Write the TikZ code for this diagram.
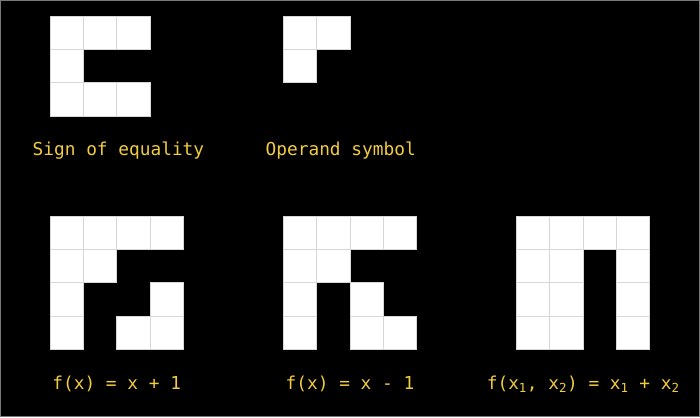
\documentclass[tikz,border=0pt]{standalone}
\usepackage{fontspec}
\setmonofont{DejaVu Sans Mono}
\definecolor{labelyellow}{RGB}{242,204,64}
\definecolor{gridline}{RGB}{215,215,215}
\definecolor{frame}{RGB}{120,120,120}
\begin{document}
\begin{tikzpicture}[x=1pt,y=-1pt,
  cell/.style={draw=gridline,fill=white,line width=0.7pt,minimum size=33.33pt,inner sep=0pt,outer sep=0pt},
  lbl/.style={text=labelyellow,font=\ttfamily\fontsize{17.8}{20}\selectfont,inner sep=0pt}]
\fill[black] (0,0) rectangle (700,417);
\useasboundingbox (0,0) rectangle (700,417);
\draw[frame,line width=1pt] (0.5,0.5) rectangle (699.5,416.5);
% grid 1: sign of equality
\foreach \c/\r in {0/0,1/0,2/0,0/1,0/2,1/2,2/2}
  \node[cell] (ga-\c-\r) at ({50+33.33*\c+16.67},{16+33.33*\r+16.67}) {};
% grid 2: operand symbol
\foreach \c/\r in {0/0,1/0,0/1}
  \node[cell] (gb-\c-\r) at ({283.3+33.33*\c+16.67},{16+33.33*\r+16.67}) {};
% grid 3: f(x)=x+1
\foreach \c/\r in {0/0,1/0,2/0,3/0,0/1,1/1,0/2,3/2,0/3,2/3,3/3}
  \node[cell] (gc-\c-\r) at ({50+33.33*\c+16.67},{216+33.33*\r+16.67}) {};
% grid 4: f(x)=x-1
\foreach \c/\r in {0/0,1/0,2/0,3/0,0/1,1/1,0/2,2/2,0/3,2/3,3/3}
  \node[cell] (gd-\c-\r) at ({283.3+33.33*\c+16.67},{216+33.33*\r+16.67}) {};
% grid 5: f(x1,x2)=x1+x2
\foreach \c/\r in {0/0,1/0,2/0,3/0,0/1,1/1,3/1,0/2,1/2,3/2,0/3,1/3,3/3}
  \node[cell] (ge-\c-\r) at ({516.5+33.33*\c+16.67},{216+33.33*\r+16.67}) {};
% labels
\node[lbl,anchor=base west] (la) at (32.5,155) {Sign of equality};
\node[lbl,anchor=base west] (lb) at (265.5,155) {Operand symbol};
\node[lbl,anchor=base] (lc) at (116.7,389) {f(x) = x + 1};
\node[lbl,anchor=base] (ld) at (350,389) {f(x) = x - 1};
\node[lbl,anchor=base] (le) at (583.2,389) {f(x\textsubscript{1}, x\textsubscript{2}) = x\textsubscript{1} + x\textsubscript{2}};
\end{tikzpicture}
\end{document}
